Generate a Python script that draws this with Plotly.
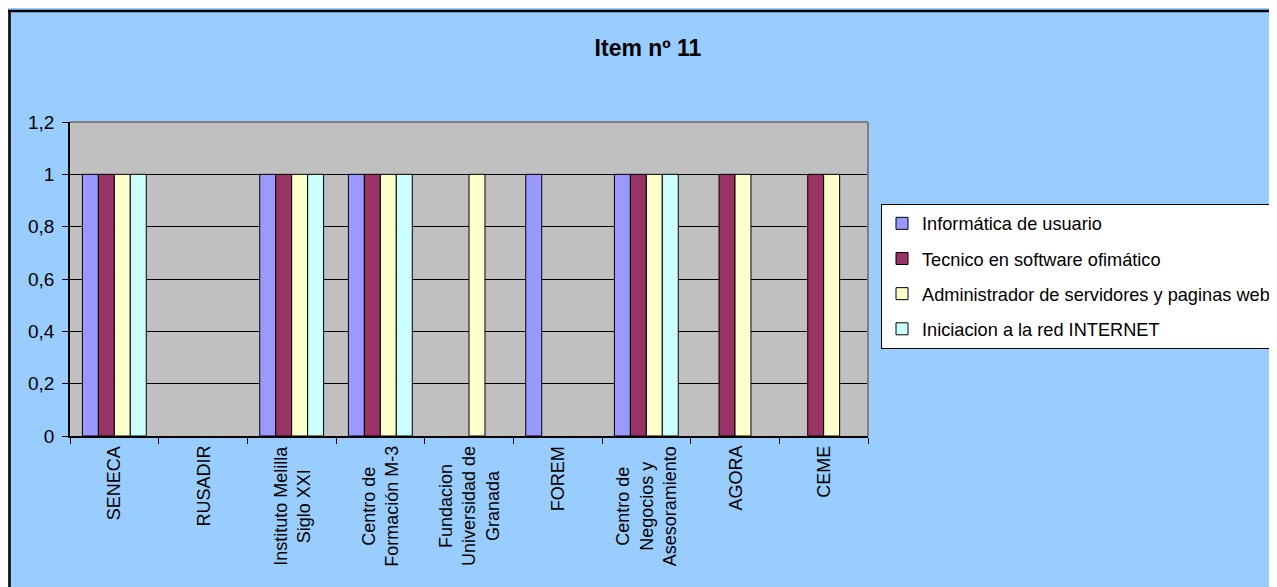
import plotly.graph_objects as go

# ---- data ----
categories = ["SENECA", "RUSADIR", "Instituto Melilla Siglo XXI", "Centro de Formación M-3",
              "Fundacion Universidad de Granada", "FOREM", "Centro de Negocios y Asesoramiento",
              "AGORA", "CEME"]
tick_labels = ["SENECA", "RUSADIR", "Instituto Melilla<br>Siglo XXI", "Centro de<br>Formación M-3",
               "Fundacion<br>Universidad de<br>Granada", "FOREM", "Centro de<br>Negocios y<br>Asesoramiento",
               "AGORA", "CEME"]
series_names = ["Informática de usuario", "Tecnico en software ofimático",
                "Administrador de servidores y paginas web", "Iniciacion a la red INTERNET"]
informatica = [1, 0, 1, 1, 0, 1, 1, 0, 0]
tecnico = [1, 0, 1, 1, 0, 0, 1, 1, 1]
administrador = [1, 0, 1, 1, 1, 0, 1, 1, 1]
iniciacion = [1, 0, 1, 1, 0, 0, 1, 0, 0]
series_values = [informatica, tecnico, administrador, iniciacion]
colors = ["#9999FF", "#993366", "#FFFFCC", "#CCFFFF"]

# figure is placed by the page at an 8px offset, so figure coords = screen - 8
W, H = 1277, 587
L, R, T, B = 62, 860, 114, 428
FONT = "Liberation Sans, Arial, sans-serif"


def px(x):
    return (x - L) / (R - L)


def py(y):
    return (B - y) / (B - T)


fig = go.Figure()
for i, (name, vals, col) in enumerate(zip(series_names, series_values, colors)):
    fig.add_trace(go.Bar(
        x=categories, y=vals, name=name,
        marker=dict(color=col, line=dict(color="black", width=[1 if v else 0 for v in vals])),
        legendgroup=f"g{i}",
    ))

shapes = [
    # chart border
    dict(type="line", xref="paper", yref="paper", x0=px(1.5), x1=px(1.5), y0=py(2), y1=py(H + 5),
         line=dict(color="black", width=2.5), layer="above"),
    dict(type="line", xref="paper", yref="paper", x0=px(0), x1=px(W + 5), y0=py(3), y1=py(3),
         line=dict(color="black", width=2.5), layer="above"),
    # plot area top/right border (grey)
    dict(type="line", xref="paper", yref="paper", x0=0, x1=1, y0=1, y1=1,
         line=dict(color="#808080", width=2), layer="above"),
    dict(type="line", xref="paper", yref="paper", x0=1, x1=1, y0=0, y1=1,
         line=dict(color="#808080", width=2), layer="above"),
]

annotations = []
for cat, lab in zip(categories, tick_labels):
    annotations.append(dict(
        x=cat, xref="x", y=0, yref="paper", yanchor="top", xanchor="center",
        yshift=-8, text=lab, textangle=-90, align="center", showarrow=False,
        font=dict(family=FONT, size=18, color="black"),
    ))

fig.update_layout(
    width=W, height=H,
    margin=dict(l=L, r=W - R, t=T, b=H - B, pad=0),
    paper_bgcolor="#99CCFF",
    plot_bgcolor="#C0C0C0",
    separators=",.",
    barmode="group",
    bargap=0.28,
    bargroupgap=0,
    font=dict(family=FONT, size=18, color="black"),
    title=dict(text="<b>Item nº 11</b>", x=640 / W, xref="container", xanchor="center",
               y=1 - 40 / H, yref="container", yanchor="middle",
               font=dict(family=FONT, size=23, color="black")),
    showlegend=True,
    legend=dict(
        x=873 / W, y=1 - 196 / H, xref="container", yref="container",
        xanchor="left", yanchor="top",
        bgcolor="white", bordercolor="black", borderwidth=1,
        font=dict(family=FONT, size=18.2, color="black"),
        traceorder="grouped", tracegroupgap=8.5,
        itemclick=False, itemdoubleclick=False,
    ),
    xaxis=dict(
        type="category", categoryorder="array", categoryarray=categories,
        showticklabels=False, tickson="boundaries", ticks="outside", ticklen=6,
        tickcolor="black", tickwidth=1, showline=True, linecolor="black", linewidth=1.5,
        showgrid=False, zeroline=False, fixedrange=True,
    ),
    yaxis=dict(
        range=[0, 1.2], dtick=0.2, tick0=0, ticks="outside", ticklen=6, tickcolor="black",
        tickwidth=1, showline=True, linecolor="black", linewidth=1.5,
        showgrid=True, gridcolor="black", gridwidth=1, zeroline=False,
        tickfont=dict(family=FONT, size=19, color="black"), ticklabelstandoff=4,
        fixedrange=True,
    ),
    shapes=shapes,
    annotations=annotations,
)

fig.write_html("out.html")
